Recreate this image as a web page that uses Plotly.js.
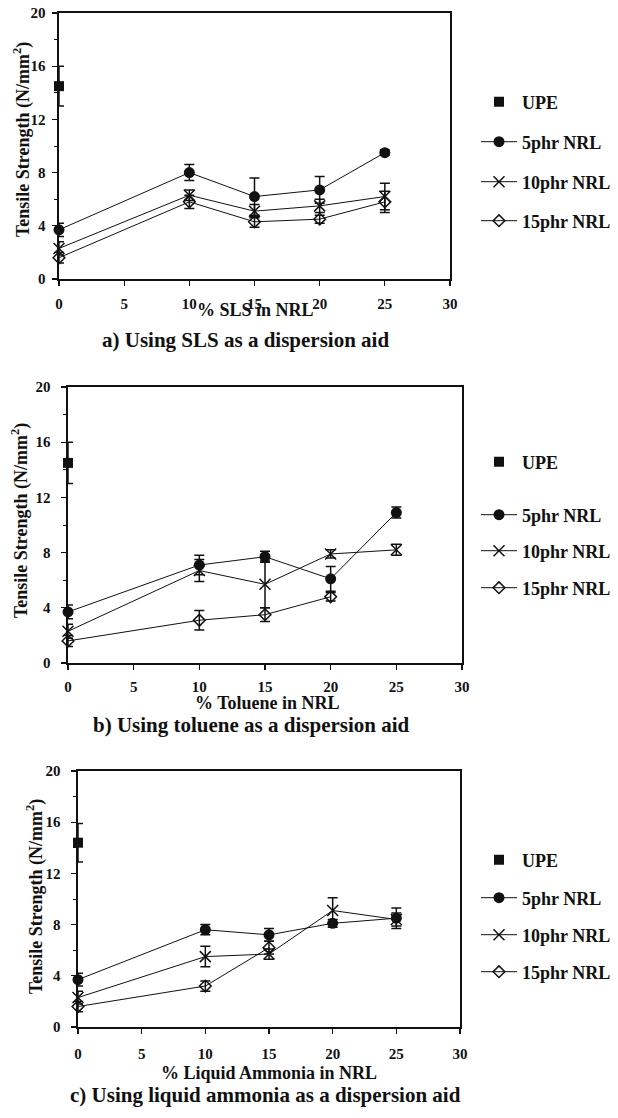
<!DOCTYPE html>
<html>
<head>
<meta charset="utf-8">
<script src="https://cdn.plot.ly/plotly-3.0.1.min.js"></script>
<style>html,body{margin:0;padding:0;background:#fff;}#chart{width:618px;height:1118px;}</style>
</head>
<body>
<div id="chart"></div>
<script>
// ---------- data ----------
var pct = [0, 10, 15, 20, 25];
var upeX = [0];

// a) SLS
var aUPE = [14.5], aUPEerr = [1.5];
var a5 = [3.7, 8.0, 6.2, 6.7, 9.5],   a5err = [0.5, 0.6, 1.4, 1.0, 0.2];
var a10 = [2.3, 6.3, 5.1, 5.5, 6.2],  a10err = [0.5, 0.4, 0.5, 0.5, 1.0];
var a15 = [1.6, 5.8, 4.3, 4.5, 5.8],  a15err = [0.4, 0.5, 0.4, 0.3, 0.8];

// b) toluene
var bUPE = [14.5], bUPEerr = [1.5];
var b5 = [3.7, 7.1, 7.7, 6.1, 10.9],  b5err = [0.5, 0.7, 0.4, 0.9, 0.4];
var b10 = [2.3, 6.7, 5.7, 7.9, 8.2],  b10err = [0.5, 0.8, 1.7, 0.3, 0.4];
var b15 = [1.6, 3.1, 3.5, 4.8, null], b15err = [0.4, 0.7, 0.5, 0.3, 0];

// c) liquid ammonia
var cUPE = [14.4], cUPEerr = [1.5];
var c5 = [3.7, 7.6, 7.2, 8.1, 8.5],   c5err = [0.5, 0.4, 0.5, 0.3, 0.8];
var c10 = [2.3, 5.5, 5.7, 9.1, 8.4],  c10err = [0.5, 0.8, 0.4, 1.0, 0.5];
var c15 = [1.6, 3.2, 6.2, null, null], c15err = [0.4, 0.4, 0.5, 0, 0];

var seriesNames = ["UPE", "5phr NRL", "10phr NRL", "15phr NRL"];
var xTitles = ["% SLS in NRL", "% Toluene in NRL", "% Liquid Ammonia in NRL"];
var captions = ["a) Using SLS as a dispersion aid", "b) Using toluene as a dispersion aid", "c) Using liquid ammonia as a dispersion aid"];
var yTitle = "Tensile Strength (N/mm<sup>2</sup>)";
var xTicks = [0, 5, 10, 15, 20, 25, 30];
var yTicks = [0, 4, 8, 12, 16, 20];

// ---------- styling / geometry ----------
var W = 618, H = 1118;
var INK = "#111";
var FONT = "Liberation Serif";
function px(x){ return x / W; }
function py(y){ return 1 - y / H; }

var panels = [
  {upe: aUPE, upeErr: aUPEerr, s: [[a5,a5err],[a10,a10err],[a15,a15err]],
   box: [59, 450, 13, 279], tickStand: 5, yStand: 4,
   legY: [102, 142, 182, 221], legX: 476,
   xt: [255, 310], cap: [245, 340], yt: [22, 140]},
  {upe: bUPE, upeErr: bUPEerr, s: [[b5,b5err],[b10,b10err],[b15,b15err]],
   box: [68, 462, 387, 663], tickStand: 4, yStand: 8,
   legY: [462, 515, 551, 588], legX: 476,
   xt: [267, 703], cap: [251, 725], yt: [20, 521]},
  {upe: cUPE, upeErr: cUPEerr, s: [[c5,c5err],[c10,c10err],[c15,c15err]],
   box: [78, 460, 771, 1027], tickStand: 7, yStand: 8,
   legY: [860, 898, 935, 972], legX: 476,
   xt: [269, 1073], cap: [265, 1095], yt: [35, 897]}
];

var markers = [
  {symbol: "circle", size: 11, color: INK, line: {width: 0}},
  {symbol: "x-thin-open", size: 11, color: INK, line: {width: 1.5, color: INK}},
  {symbol: "diamond-open", size: 9, color: INK, line: {width: 1.5, color: INK}}
];

var traces = [];
var layout = {
  width: W, height: H,
  margin: {l: 0, r: 0, t: 0, b: 0},
  paper_bgcolor: "#fff", plot_bgcolor: "#fff",
  font: {family: FONT, color: INK},
  showlegend: true,
  annotations: []
};

var legendCount = 0;
function newLegend(x, y){
  legendCount++;
  var name = legendCount === 1 ? "legend" : "legend" + legendCount;
  layout[name] = {
    x: px(x), xanchor: "left", y: py(y), yanchor: "middle",
    bgcolor: "rgba(0,0,0,0)", borderwidth: 0,
    font: {family: FONT, size: 18, color: INK, weight: "bold"},
    itemwidth: 36
  };
  return name;
}

panels.forEach(function(p, i){
  var n = i + 1;
  var xa = n === 1 ? "x" : "x" + n;
  var ya = n === 1 ? "y" : "y" + n;
  var xk = n === 1 ? "xaxis" : "xaxis" + n;
  var yk = n === 1 ? "yaxis" : "yaxis" + n;

  layout[xk] = {
    domain: [px(p.box[0]), px(p.box[1])], anchor: ya,
    range: [0, 30], tickvals: xTicks, ticks: "outside", ticklen: 5, tickwidth: 1.3, tickcolor: INK,
    showline: true, linewidth: 1.6, linecolor: INK, mirror: true,
    showgrid: false, zeroline: false, ticklabelstandoff: p.tickStand,
    tickfont: {family: FONT, size: 15, color: INK, weight: "bold"}
  };
  layout[yk] = {
    domain: [py(p.box[3]), py(p.box[2])], anchor: xa,
    range: [0, 20], tickvals: yTicks, ticks: "outside", ticklen: 5, tickwidth: 1.3, tickcolor: INK,
    minor: {dtick: 2, tick0: 0, ticks: "outside", ticklen: 3, tickwidth: 1, tickcolor: INK, showgrid: false},
    showline: true, linewidth: 1.6, linecolor: INK, mirror: true,
    showgrid: false, zeroline: false, ticklabelstandoff: p.yStand,
    tickfont: {family: FONT, size: 15, color: INK, weight: "bold"}
  };

  // UPE
  traces.push({
    type: "scatter", mode: "markers", x: upeX, y: p.upe, name: seriesNames[0],
    xaxis: xa, yaxis: ya, cliponaxis: false,
    marker: {symbol: "square", size: 10, color: INK},
    error_y: {type: "data", array: p.upeErr, visible: true, color: INK, thickness: 1.5, width: 5},
    legend: newLegend(p.legX, p.legY[0])
  });
  p.s.forEach(function(s, k){
    traces.push({
      type: "scatter", mode: "lines+markers", x: pct, y: s[0], name: seriesNames[k + 1],
      xaxis: xa, yaxis: ya, cliponaxis: false, connectgaps: false,
      line: {color: INK, width: 1},
      marker: markers[k],
      error_y: {type: "data", array: s[1], visible: true, color: INK, thickness: 1.5, width: 5},
      legend: newLegend(p.legX, p.legY[k + 1])
    });
  });

  layout.annotations.push({
    xref: "paper", yref: "paper", x: px(p.xt[0]), y: py(p.xt[1]), xanchor: "center", yanchor: "middle",
    text: xTitles[i], showarrow: false, font: {family: FONT, size: 18, color: INK, weight: "bold"}
  });
  layout.annotations.push({
    xref: "paper", yref: "paper", x: px(p.cap[0]), y: py(p.cap[1]), xanchor: "center", yanchor: "middle",
    text: captions[i], showarrow: false, font: {family: FONT, size: 21, color: INK, weight: "bold"}
  });
  layout.annotations.push({
    xref: "paper", yref: "paper", x: px(p.yt[0]), y: py(p.yt[1]), xanchor: "center", yanchor: "middle",
    text: yTitle, textangle: -90, showarrow: false, font: {family: FONT, size: 18, color: INK, weight: "bold"}
  });
});

Plotly.newPlot("chart", traces, layout, {staticPlot: true, displayModeBar: false});
</script>
</body>
</html>
